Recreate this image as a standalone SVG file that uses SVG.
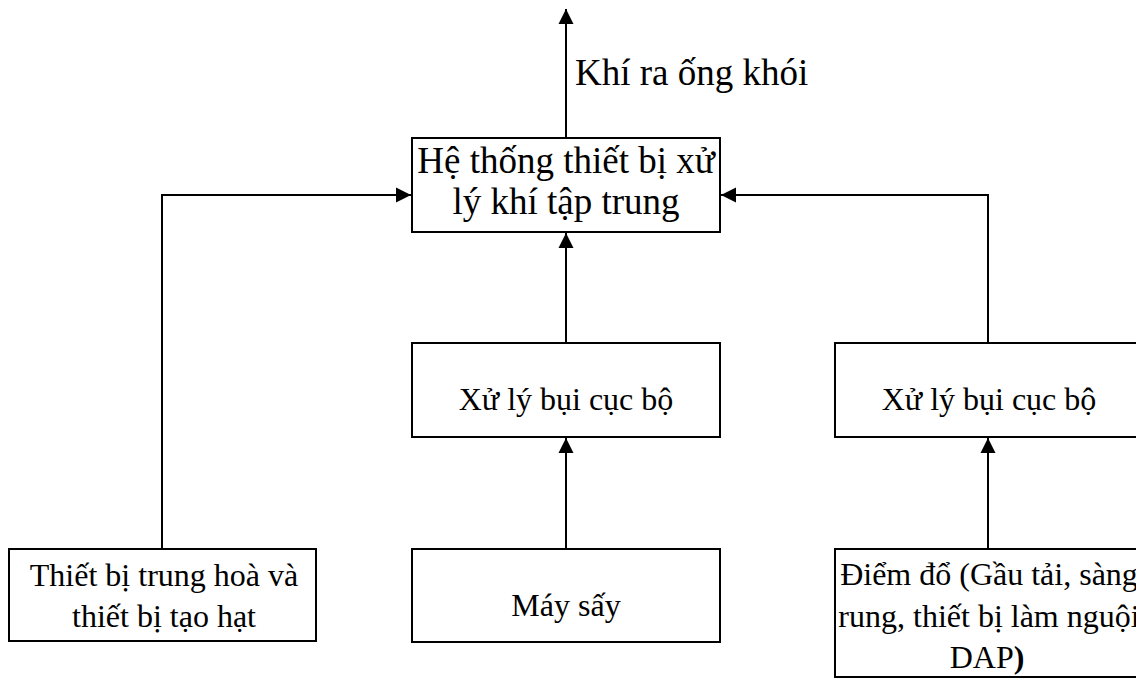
<svg xmlns="http://www.w3.org/2000/svg" width="1136" height="680" viewBox="0 0 1136 680">
  <style>
    .box { fill: #ffffff; stroke: #000000; stroke-width: 2; }
    .lbl { font-family: "Liberation Serif", "Times New Roman", serif; font-size: 32px; fill: #000000; text-anchor: middle; }
    .big { font-size: 37px; }
    .edge { fill: none; stroke: #000000; stroke-width: 2; }
  </style>
  <defs>
    <marker id="arrow" markerUnits="userSpaceOnUse" markerWidth="16" markerHeight="16" viewBox="0 0 16 16" refX="15" refY="8" orient="auto">
      <path d="M0,0.5 L15,8 L0,15.5 z" fill="#000000"/>
    </marker>
  </defs>

  <rect width="1136" height="680" fill="#ffffff"/>

  <!-- connectors -->
  <g id="connectors">
    <path class="edge" d="M566,138 V9" marker-end="url(#arrow)"/>
    <path class="edge" d="M162,549 V195 H411" marker-end="url(#arrow)"/>
    <path class="edge" d="M988,343 V195 H721" marker-end="url(#arrow)"/>
    <path class="edge" d="M566,343 V233" marker-end="url(#arrow)"/>
    <path class="edge" d="M566,549 V438" marker-end="url(#arrow)"/>
    <path class="edge" d="M988,549 V438" marker-end="url(#arrow)"/>
  </g>

  <!-- exhaust label -->
  <text id="exhaust-label" class="lbl big" x="575" y="85" text-anchor="start" style="text-anchor:start">Khí ra ống khói</text>

  <g id="central-treatment">
    <rect class="box" x="412" y="138" width="308" height="94"/>
    <text class="lbl big" x="566" y="173">Hệ thống thiết bị xử</text>
    <text class="lbl big" x="566" y="214">lý khí tập trung</text>
  </g>

  <g id="local-dust-1">
    <rect class="box" x="412" y="343" width="308" height="94"/>
    <text class="lbl" x="566" y="410">Xử lý bụi cục bộ</text>
  </g>

  <g id="local-dust-2">
    <rect class="box" x="835" y="343" width="308" height="94"/>
    <text class="lbl" x="989" y="410">Xử lý bụi cục bộ</text>
  </g>

  <g id="neutraliser">
    <rect class="box" x="9" y="549" width="307" height="92"/>
    <text class="lbl" x="164" y="586">Thiết bị trung hoà và</text>
    <text class="lbl" x="164" y="627">thiết bị tạo hạt</text>
  </g>

  <g id="dryer">
    <rect class="box" x="412" y="549" width="308" height="93"/>
    <text class="lbl" x="566" y="616">Máy sấy</text>
  </g>

  <g id="transfer-points">
    <rect class="box" x="835" y="549" width="308" height="128"/>
    <text class="lbl" x="989" y="585">Điểm đổ (Gầu tải, sàng</text>
    <text class="lbl" x="989" y="627">rung, thiết bị làm nguội</text>
    <text class="lbl" x="987" y="668">DAP<tspan font-weight="bold">)</tspan></text>
  </g>
</svg>
